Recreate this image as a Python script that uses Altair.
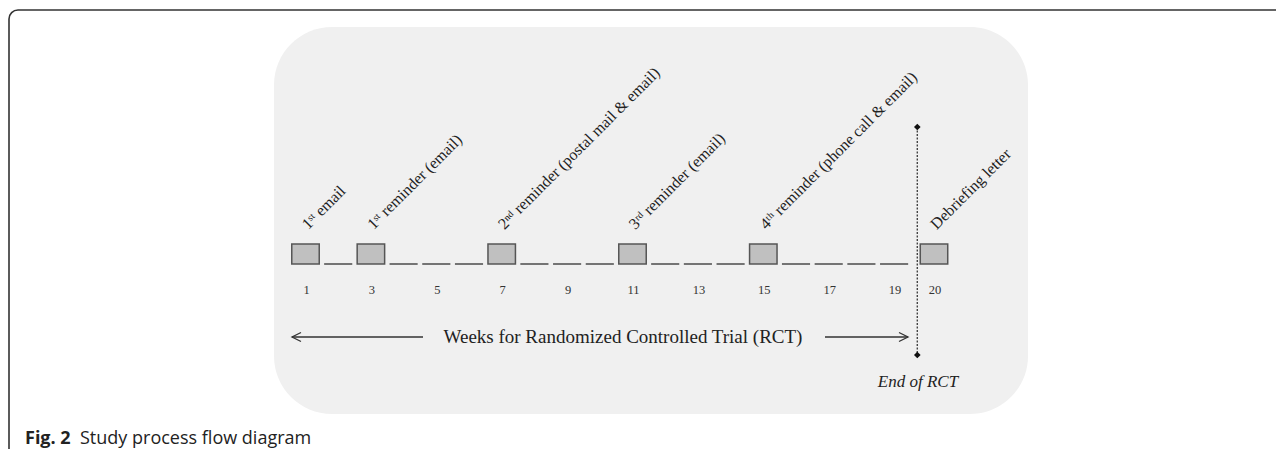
import altair as alt
import pandas as pd

# ---- data ----
box_weeks = [1, 3, 7, 11, 15, 20]
event_labels = [
    "1ˢᵗ email",
    "1ˢᵗ reminder (email)",
    "2ⁿᵈ reminder (postal mail & email)",
    "3ʳᵈ reminder (email)",
    "4ᵗʰ reminder (phone call & email)",
    "Debriefing letter",
]
dash_weeks = [2, 4, 5, 6, 8, 9, 10, 12, 13, 14, 16, 17, 18, 19]
tick_weeks = [1, 3, 5, 7, 9, 11, 13, 15, 17, 19, 20]
tick_labels = ["1", "3", "5", "7", "9", "11", "13", "15", "17", "19", "20"]
axis_text = ["Weeks for Randomized Controlled Trial (RCT)"]
end_text = ["End of RCT"]
caption_bold = ["Fig. 2"]
caption_text = ["Study process flow diagram"]

W, H = 1268, 441
SERIF = "Liberation Serif"
SANS = "Open Sans"

xscale = alt.Scale(domain=[-8.098, 30.679], nice=False, zero=False)
shift = "datum.week + (datum.week > 19 ? 0.22 : 0)"

boxes_df = pd.DataFrame({"week": box_weeks, "label": event_labels})
dash_df = pd.DataFrame({"week": dash_weeks})
ticks_df = pd.DataFrame({"week": tick_weeks, "label": tick_labels})
one = pd.DataFrame({"a": [0]})

frame = alt.Chart(one).mark_rect(
    fill="transparent", stroke="#333333", strokeWidth=1.6, cornerRadius=9
).encode(x=alt.value(1), x2=alt.value(1320), y=alt.value(2), y2=alt.value(480))

panel = alt.Chart(one).mark_rect(fill="#f0f0f0", cornerRadius=58).encode(
    x=alt.value(266), x2=alt.value(1020), y=alt.value(19), y2=alt.value(406)
)

boxes = alt.Chart(boxes_df).transform_calculate(xpos=shift).transform_calculate(
    x1="datum.xpos - 0.42", x2="datum.xpos + 0.42"
).mark_rect(fill="#c0c0c0", stroke="#555555", strokeWidth=1.5).encode(
    x=alt.X("x1:Q", scale=xscale, axis=None),
    x2="x2:Q",
    y=alt.value(236),
    y2=alt.value(256),
)

labels = alt.Chart(boxes_df).transform_calculate(xpos=shift).mark_text(
    angle=315, align="left", baseline="alphabetic", font=SERIF, fontSize=16,
    color="#222222", dx=4,
).encode(x=alt.X("xpos:Q", scale=xscale, axis=None), y=alt.value(225), text="label:N")

dashes = alt.Chart(dash_df).transform_calculate(
    x1="datum.week - 0.43", x2="datum.week + 0.43"
).mark_rule(color="#555555", strokeWidth=1.6).encode(
    x=alt.X("x1:Q", scale=xscale, axis=None), x2="x2:Q", y=alt.value(256)
)

ticks = alt.Chart(ticks_df).transform_calculate(xpos=shift).mark_text(
    font=SERIF, fontSize=12.5, color="#333333", baseline="middle", align="center", dx=1
).encode(x=alt.X("xpos:Q", scale=xscale, axis=None), y=alt.value(282), text="label:N")

left_line = alt.Chart(one).mark_rule(color="#333333", strokeWidth=1.3).encode(
    x=alt.value(284), x2=alt.value(415), y=alt.value(329)
)
right_line = alt.Chart(one).mark_rule(color="#333333", strokeWidth=1.3).encode(
    x=alt.value(817), x2=alt.value(900), y=alt.value(329)
)
left_head = alt.Chart(one).mark_point(
    shape="M1,-1 L-1,0 L1,1", filled=False, size=81, stroke="#333333", strokeWidth=1.3, opacity=1
).encode(x=alt.value(288.5), y=alt.value(329))
right_head = alt.Chart(one).mark_point(
    shape="M-1,-1 L1,0 L-1,1", filled=False, size=81, stroke="#333333", strokeWidth=1.3, opacity=1
).encode(x=alt.value(895.5), y=alt.value(329))

axis_label = alt.Chart(pd.DataFrame({"t": axis_text})).mark_text(
    font=SERIF, fontSize=19, color="#222222", align="center", baseline="middle"
).encode(x=alt.value(615), y=alt.value(329), text="t:N")

vline = alt.Chart(one).mark_rule(color="#444444", strokeWidth=1.4, strokeDash=[2, 1.5]).encode(
    x=alt.value(909.3), y=alt.value(119), y2=alt.value(347)
)
diamonds = alt.Chart(pd.DataFrame({"p": [119, 347]})).mark_point(
    shape="diamond", filled=True, size=45, color="#111111", opacity=1
).encode(x=alt.value(909.3), y=alt.Y("p:Q", scale=alt.Scale(domain=[0, H], range=[0, H]), axis=None))

end_label = alt.Chart(pd.DataFrame({"t": end_text})).mark_text(
    font=SERIF, fontSize=17, fontStyle="italic", color="#222222", align="center", baseline="middle"
).encode(x=alt.value(910), y=alt.value(374), text="t:N")

cap1 = alt.Chart(pd.DataFrame({"t": caption_bold})).mark_text(
    font=SANS, fontSize=18, fontWeight="bold", color="#222222", align="left", baseline="alphabetic"
).encode(x=alt.value(17), y=alt.value(436), text="t:N")
cap2 = alt.Chart(pd.DataFrame({"t": caption_text})).mark_text(
    font=SANS, fontSize=18, color="#222222", align="left", baseline="alphabetic"
).encode(x=alt.value(72), y=alt.value(436), text="t:N")

chart = alt.layer(
    frame, panel, dashes, boxes, labels, ticks, left_line, right_line, left_head, right_head,
    axis_label, vline, diamonds, end_label, cap1, cap2,
).properties(
    width=W, height=H, padding=0, autosize=alt.AutoSizeParams(type="none"), background="white"
).configure_view(stroke=None)

chart.save("out.html", embed_options={"renderer": "svg", "actions": False})
